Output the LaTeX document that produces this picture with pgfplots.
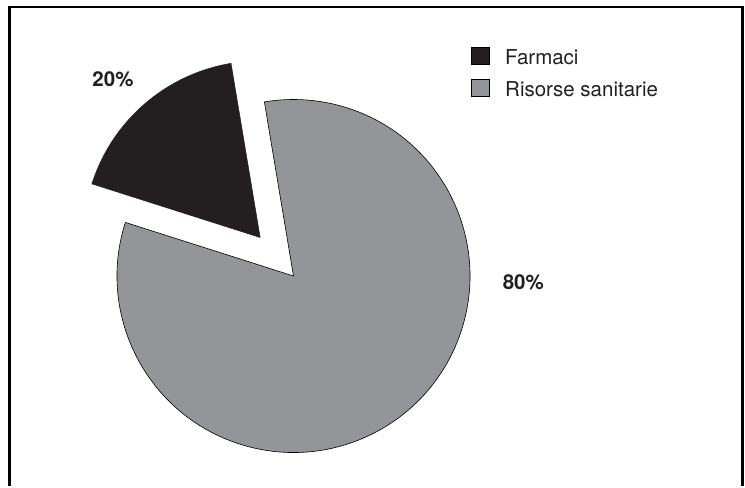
\documentclass[border=0pt]{standalone}
\usepackage{pgfplots}
\pgfplotsset{compat=1.18}
\usepackage{fontspec}
\setmainfont{TeX Gyre Heros}
\definecolor{farm}{HTML}{231F20}
\definecolor{ris}{HTML}{939598}
% pie data (shares as drawn in the picture, labels as printed)
\def\vFarm{17.45}
\def\vRis{82.55}
\def\pieCx{293.5}
\def\pieCy{210}
\def\pieR{176.5}
\def\pieStart{99.5}
\def\pieExpl{51}
\pgfmathsetmacro\aMid{\pieStart+1.8*\vFarm}
\pgfmathsetmacro\aEnd{\pieStart+3.6*\vFarm}
\pgfmathsetmacro\aFull{\pieStart+360}
\pgfmathsetmacro\dCx{\pieCx+\pieExpl*cos(\aMid)}
\pgfmathsetmacro\dCy{\pieCy+\pieExpl*sin(\aMid)}
\begin{document}
\begin{tikzpicture}
\begin{axis}[scale only axis, width=745bp, height=486bp,
  xmin=0, xmax=745, ymin=0, ymax=486, axis lines=none, clip=false]
\path (axis cs:0,0) rectangle (axis cs:745,486);
% frame
\draw[line width=2.5bp] (axis cs:9.3,0) -- (axis cs:9.3,479) -- (axis cs:742.5,479) -- (axis cs:742.5,0);
% Risorse sanitarie slice
\filldraw[fill=ris, draw=black, line width=0.6bp, line join=miter]
  (axis cs:\pieCx,\pieCy) -- ++(\aEnd:\pieR bp) arc[start angle=\aEnd, end angle=\aFull, radius=\pieR bp] -- cycle;
% Farmaci slice (exploded)
\filldraw[fill=farm, draw=farm, line width=0.6bp, line join=miter]
  (axis cs:\dCx,\dCy) -- ++(\pieStart:\pieR bp) arc[start angle=\pieStart, end angle=\aEnd, radius=\pieR bp] -- cycle;
% labels
\node[font=\bfseries\fontsize{20.5bp}{24bp}\selectfont, text=farm, inner sep=0pt] at (axis cs:113,407) {20\%};
\node[font=\bfseries\fontsize{20.5bp}{24bp}\selectfont, text=farm, inner sep=0pt] at (axis cs:523.3,203.3) {80\%};
% legend
\filldraw[fill=farm, draw=black, line width=0.6bp] (axis cs:471,439) rectangle (axis cs:489,422);
\filldraw[fill=ris, draw=black, line width=0.6bp] (axis cs:471,406.7) rectangle (axis cs:489,389.3);
\node[font=\fontsize{20.5bp}{24bp}\selectfont, text=farm, inner sep=0pt, anchor=base west] at (axis cs:505,421.7) {Farmaci};
\node[font=\fontsize{20.5bp}{24bp}\selectfont, text=farm, inner sep=0pt, anchor=base west] at (axis cs:505,389.3) {Risorse sanitarie};
\end{axis}
\end{tikzpicture}
\end{document}
